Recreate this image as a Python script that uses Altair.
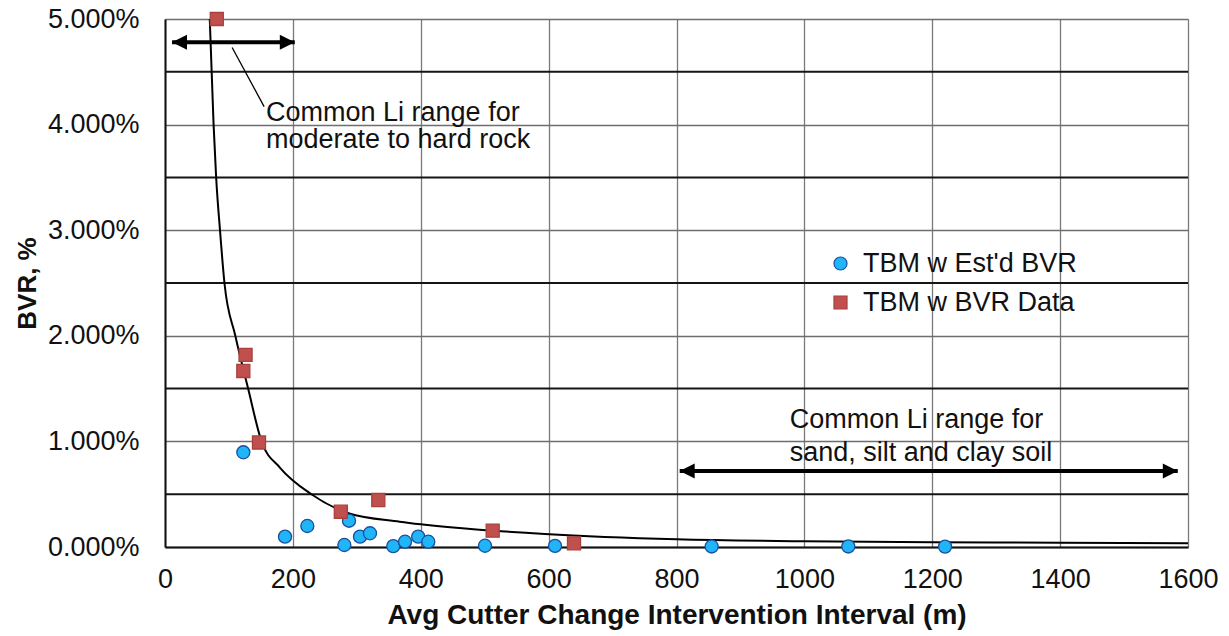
import altair as alt
import pandas as pd

FONT = "Liberation Sans"

# Estimated-BVR TBMs: interval (m) and BVR (%)
est_x = [122.5, 187.7, 222.6, 280.5, 287.8, 305, 320.6, 357, 375.4, 396, 411.8, 500.5, 610, 855, 1068.7, 1220]
est_y = [0.897, 0.098, 0.199, 0.019, 0.249, 0.098, 0.13, 0.008, 0.05, 0.098, 0.05, 0.012, 0.01, 0.005, 0.005, 0.004]

# TBMs with measured BVR
data_x = [81, 126, 122.5, 147, 275, 333.6, 512.5, 639.7]
data_y = [5.0, 1.82, 1.667, 0.99, 0.334, 0.445, 0.155, 0.035]

# Fitted trend curve
trend_x = [70, 73, 76, 80, 86, 93, 110, 130, 151, 180, 229, 287, 367, 446, 594, 800, 1000, 1300, 1600]
trend_y = [5.0, 4.5, 4.0, 3.5, 3.0, 2.5, 2.0, 1.5, 1.0, 0.75, 0.5, 0.32, 0.24, 0.187, 0.123, 0.073, 0.055, 0.043, 0.035]

series_names = ["TBM w Est'd BVR", "TBM w BVR Data"]
fill_colors = ["#1FB5F6", "#C0504D"]
edge_colors = ["#1B4F9E", "#A8413E"]

x_ticks = [0, 200, 400, 600, 800, 1000, 1200, 1400, 1600]
y_ticks = [0.0, 0.01, 0.02, 0.03, 0.04, 0.05]
half_lines = [0.005, 0.015, 0.025, 0.035, 0.045]

# Annotation ranges (x in m, y in %)
rock_range = [11, 203]
rock_y = 4.78
soil_range = [805, 1584]
soil_y = 0.72
rock_text = ["Common Li range for", "moderate to hard rock"]
rock_text_pos = (158, [4.11, 3.85])
soil_text = ["Common Li range for", "sand, silt and clay soil"]
soil_text_pos = (977, [1.20, 0.89])
leader = ([105, 155], [4.73, 4.17])

points = pd.DataFrame({
    "x": est_x + data_x,
    "y": [v / 100 for v in est_y + data_y],
    "series": [series_names[0]] * len(est_x) + [series_names[1]] * len(data_x),
})
trend = pd.DataFrame({"x": trend_x, "y": [v / 100 for v in trend_y]})

xs = alt.Scale(domain=[0, 1600], nice=False)
ys = alt.Scale(domain=[0, 0.05], nice=False)

legend = alt.Legend(
    title=None, orient="none", legendX=662, legendY=231, padding=0,
    labelFont=FONT, labelFontSize=27, labelColor="#111111", labelOffset=9, labelLimit=0,
    symbolSize=170, rowPadding=11, symbolStrokeWidth=1.2,
)

x_axis = alt.Axis(
    values=x_ticks, format="d", title="Avg Cutter Change Intervention Interval (m)",
    labelFont=FONT, labelFontSize=27, labelColor="#111111", labelPadding=19, labelFlush=False,
    titleFont=FONT, titleFontSize=28, titleFontWeight="bold", titleColor="#111111", titlePadding=9,
    grid=True, gridColor="#7a7a7a", gridWidth=1.3, ticks=False,
    domainColor="#111111", domainWidth=2,
)
y_axis = alt.Axis(
    values=y_ticks, format=".3%", title="BVR, %",
    labelFont=FONT, labelFontSize=27, labelColor="#111111", labelPadding=26, labelFlush=False,
    titleFont=FONT, titleFontSize=26, titleFontWeight="bold", titleColor="#111111",
    titleX=-138, titleY=264, titleAngle=270, titleAlign="center", titleBaseline="middle",
    grid=True, gridColor="#6e6e6e", gridWidth=1.5, ticks=False,
    domainColor="#111111", domainWidth=2,
)

base_axes = alt.Chart(trend).mark_point(opacity=0).encode(
    x=alt.X("x:Q", scale=xs, axis=x_axis),
    y=alt.Y("y:Q", scale=ys, axis=y_axis),
)

half_rules = alt.Chart(pd.DataFrame({"y": half_lines})).mark_rule(
    color="#151515", strokeWidth=2
).encode(y=alt.Y("y:Q", scale=ys))

def arrow(rng, yv):
    seg = pd.DataFrame({"x": [rng[0]], "x2": [rng[1]], "y": [yv / 100]})
    shaft = alt.Chart(seg).mark_rule(color="black", strokeWidth=4).encode(
        x=alt.X("x:Q", scale=xs), x2="x2:Q", y=alt.Y("y:Q", scale=ys)
    )
    off = 11.7
    left = alt.Chart(pd.DataFrame({"x": [rng[0] + off], "y": [yv / 100]})).mark_point(
        shape="M-1,0L1,-1L1,1Z", filled=True, size=225, color="black", opacity=1
    ).encode(x=alt.X("x:Q", scale=xs), y=alt.Y("y:Q", scale=ys))
    right = alt.Chart(pd.DataFrame({"x": [rng[1] - off], "y": [yv / 100]})).mark_point(
        shape="M1,0L-1,-1L-1,1Z", filled=True, size=225, color="black", opacity=1
    ).encode(x=alt.X("x:Q", scale=xs), y=alt.Y("y:Q", scale=ys))
    return shaft + left + right

def label(lines, pos):
    df = pd.DataFrame({"x": [pos[0]] * len(lines), "y": [v / 100 for v in pos[1]], "t": lines})
    return alt.Chart(df).mark_text(
        align="left", baseline="middle", font=FONT, fontSize=27, color="#111111"
    ).encode(x=alt.X("x:Q", scale=xs), y=alt.Y("y:Q", scale=ys), text="t:N")

leader_line = alt.Chart(pd.DataFrame({"x": [leader[0][0]], "x2": [leader[0][1]],
                                      "y": [leader[1][0] / 100], "y2": [leader[1][1] / 100]})).mark_rule(
    color="black", strokeWidth=1.3
).encode(x=alt.X("x:Q", scale=xs), x2="x2:Q", y=alt.Y("y:Q", scale=ys), y2="y2:Q")

curve = alt.Chart(trend).mark_line(color="black", strokeWidth=2, interpolate="monotone", clip=True).encode(
    x=alt.X("x:Q", scale=xs), y=alt.Y("y:Q", scale=ys)
)

scatter = alt.Chart(points).mark_point(filled=True, size=170, strokeWidth=1.3, opacity=1, clip=False).encode(
    x=alt.X("x:Q", scale=xs),
    y=alt.Y("y:Q", scale=ys),
    fill=alt.Fill("series:N", scale=alt.Scale(domain=series_names, range=fill_colors), legend=legend),
    shape=alt.Shape("series:N", scale=alt.Scale(domain=series_names, range=["circle", "square"]), legend=legend),
    stroke=alt.Stroke("series:N", scale=alt.Scale(domain=series_names, range=edge_colors), legend=legend),
)

chart = alt.layer(
    base_axes, half_rules,
    label(rock_text, rock_text_pos), label(soil_text, soil_text_pos),
    leader_line, arrow(rock_range, rock_y), arrow(soil_range, soil_y),
    curve, scatter,
).properties(
    width=1023, height=528,
    padding={"left": 165, "top": 19, "right": 41, "bottom": 89},
    autosize=alt.AutoSizeParams(type="none"),
    background="white",
).configure_view(stroke=None)

chart.save("out.html", embed_options={"renderer": "svg", "actions": False})
